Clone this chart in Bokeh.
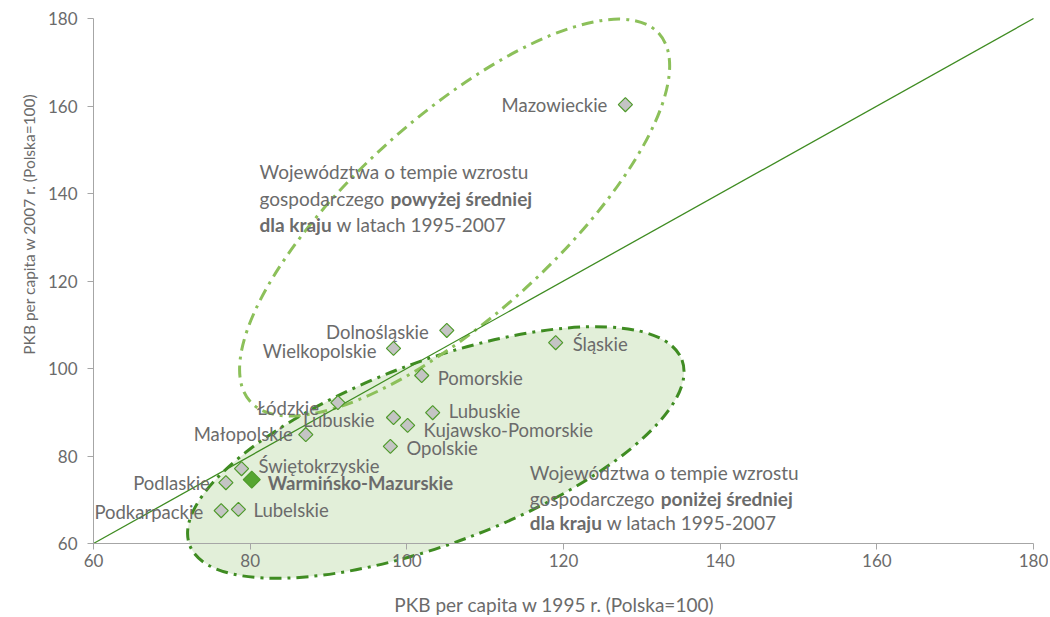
import math
from bokeh.plotting import figure
from bokeh.models import Range1d, FixedTicker, ColumnDataSource, LinearAxis
from bokeh.core.properties import value
from bokeh.embed import file_html
from bokeh.resources import INLINE

# ---------------- data ----------------
regions = ["Mazowieckie", "Dolnośląskie", "Wielkopolskie", "Śląskie", "Pomorskie",
           "Łódzkie", "Lubuskie", "Lubuskie", "Kujawsko-Pomorskie", "Opolskie",
           "Małopolskie", "Świętokrzyskie", "Podlaskie", "Warmińsko-Mazurskie",
           "Podkarpackie", "Lubelskie"]
gdp_1995 = [127.9, 105.1, 98.3, 119.0, 101.9, 91.2, 98.3, 103.3, 100.1, 97.9,
            87.1, 78.9, 76.9, 80.2, 76.3, 78.5]
gdp_2007 = [160.3, 108.7, 104.6, 105.9, 98.4, 92.2, 88.8, 89.9, 87.0, 82.2,
            84.9, 77.1, 73.9, 74.6, 67.5, 67.8]
highlight = "Warmińsko-Mazurskie"

ticks = [60, 80, 100, 120, 140, 160, 180]
axis_bounds = (60, 180)
diag = [60, 180]

# label placement (screen px offsets from marker)
label_dx = [-18, -18, -17, 17, 16, -19, -19, 16, 16, 16, -13, 17, -16, 16, -18, 15]
label_dy = [0, 2, 3, 1, 2, 5, 2, -2, 5, 2, -1, -3, 0, 3, 1, 1]

# groups (ellipses): centre in data units
ell_above_center = (106.1, 134.5)
ell_below_center = (103.7, 80.8)

above_lines = [("Województwa o tempie wzrostu", None),
               ("gospodarczego ", "powyżej średniej"),
               ("dla kraju", " w latach 1995-2007")]
below_lines = [("Województwa o tempie wzrostu", None),
               ("gospodarczego ", "poniżej średniej"),
               ("dla kraju", " w latach 1995-2007")]
above_text_pos = (81.2, [145.0, 138.8, 133.0])
below_text_pos = (115.7, [76.2, 70.4, 64.7])

x_title = "PKB per capita w 1995 r. (Polska=100)"
y_title = "PKB per capita w 2007 r. (Polska=100)"

# ---------------- style ----------------
FONT = "Lato"
TXT = "#6b6b6b"
AXIS = "#a6a6a6"
DARK_GREEN = "#3f8c22"
LIGHT_GREEN = "#8cc05a"
FILL_GREEN = "#e2efd9"

W, H = 1048, 616
PX_X = 940 / 120.0   # px per unit
PX_Y = 525 / 120.0
x0 = 60 - 93 / PX_X
x1 = 60 + (W - 93) / PX_X
y1 = 180 + 18 / PX_Y
y0 = 180 - (H - 18) / PX_Y

# frame covers the whole canvas; axes are fixed at 60
p = figure(width=W, height=H, x_range=Range1d(x0, x1), y_range=Range1d(y0, y1),
           min_border_left=0, min_border_right=0, min_border_top=0, min_border_bottom=0,
           output_backend="svg", toolbar_location=None)
p.outline_line_color = None
p.xgrid.visible = False
p.ygrid.visible = False
p.background_fill_color = "white"
p.border_fill_color = "white"


def style_axis(ax, bounds=axis_bounds):
    ax.ticker = FixedTicker(ticks=ticks)
    ax.axis_line_color = AXIS
    ax.major_tick_line_color = AXIS
    ax.minor_tick_line_color = None
    ax.major_tick_in = 0
    ax.major_tick_out = 6
    ax.major_label_text_font = FONT
    ax.major_label_text_font_size = "17px"
    ax.major_label_text_color = TXT
    ax.axis_label_text_font = FONT
    ax.axis_label_text_color = TXT
    ax.axis_label_text_font_style = "normal"
    ax.fixed_location = 60
    ax.bounds = bounds


def ghost(ax):
    # companion axis: invisible line / ticks / labels, carries only the title
    ax.axis_line_alpha = 0
    ax.major_tick_line_alpha = 0
    ax.major_label_text_alpha = 0


xa = p.xaxis[0]
ya = p.yaxis[0]
style_axis(xa)
style_axis(ya)
ya.major_label_standoff = 10
xa.major_label_standoff = 4

xa2 = LinearAxis()
style_axis(xa2, bounds=(60, 177.7))
ghost(xa2)
xa2.major_label_standoff = 4
xa2.axis_label = x_title
xa2.axis_label_text_font_size = "19px"
xa2.axis_label_standoff = 43
p.add_layout(xa2, "below")

ya2 = LinearAxis()
style_axis(ya2, bounds=(86, 180))
ghost(ya2)
ya2.major_label_standoff = 10
ya2.axis_label = y_title
ya2.axis_label_text_font_size = "15.5px"
ya2.axis_label_standoff = 50
p.add_layout(ya2, "left")

# ellipses
p.ellipse(x=[ell_below_center[0]], y=[ell_below_center[1]], width=526, height=182,
          width_units="screen", height_units="screen", angle=math.radians(20.6),
          fill_color=FILL_GREEN, line_color=DARK_GREEN, line_width=3, line_dash="12 6 3 6")
p.ellipse(x=[ell_above_center[0]], y=[ell_above_center[1]], width=550, height=200,
          width_units="screen", height_units="screen", angle=math.radians(42),
          fill_color=None, line_color=LIGHT_GREEN, line_width=3, line_dash="12 6 3 6")

# diagonal
p.line(diag, diag, line_color=DARK_GREEN, line_width=1.3)

# points
norm_idx = [i for i, r in enumerate(regions) if r != highlight]
hi_idx = [i for i, r in enumerate(regions) if r == highlight]


def make_src(idx):
    return ColumnDataSource(dict(
        x=[gdp_1995[i] for i in idx], y=[gdp_2007[i] for i in idx],
        name=[regions[i] for i in idx],
        dx=[label_dx[i] for i in idx], dy=[label_dy[i] for i in idx],
        align=["right" if label_dx[i] < 0 else "left" for i in idx]))


src_n = make_src(norm_idx)
src_h = make_src(hi_idx)

p.scatter("x", "y", source=src_n, marker="square", size=10, angle=math.pi / 4,
          fill_color="#c4c4c4", line_color="#4e9a2a", line_width=1.2)
p.scatter("x", "y", source=src_h, marker="square", size=12, angle=math.pi / 4,
          fill_color="#56a531", line_color="#4e9a2a", line_width=1.2)

LBL = "18.5px"
p.text("x", "y", text="name", source=src_n, x_offset="dx", y_offset="dy",
       text_align="align", text_baseline="middle", text_font=value(FONT),
       text_font_size=LBL, text_color=TXT)
p.text("x", "y", text="name", source=src_h, x_offset="dx", y_offset="dy",
       text_align="align", text_baseline="middle", text_font=value(FONT),
       text_font_size=LBL, text_color=TXT, text_font_style="bold")

# group descriptions (mixed normal / bold)
ANN = "19px"


def block(lines, pos):
    bx, ys = pos
    for k, ((a, b), yy) in enumerate(zip(lines, ys)):
        common = dict(text_font=value(FONT), text_font_size=ANN, text_color=TXT,
                      text_baseline="middle")
        if k == 0:
            p.text([bx], [yy], text=[a], **common)
        elif k == 1:
            p.text([bx], [yy], text=[a], **common)
            p.text([bx], [yy], text=[b], text_font_style="bold", x_offset=131, **common)
        else:
            p.text([bx], [yy], text=[a], text_font_style="bold", **common)
            p.text([bx], [yy], text=[b], x_offset=77, **common)


block(above_lines, above_text_pos)
block(below_lines, below_text_pos)

open("out.html", "w").write(file_html(p, INLINE))
